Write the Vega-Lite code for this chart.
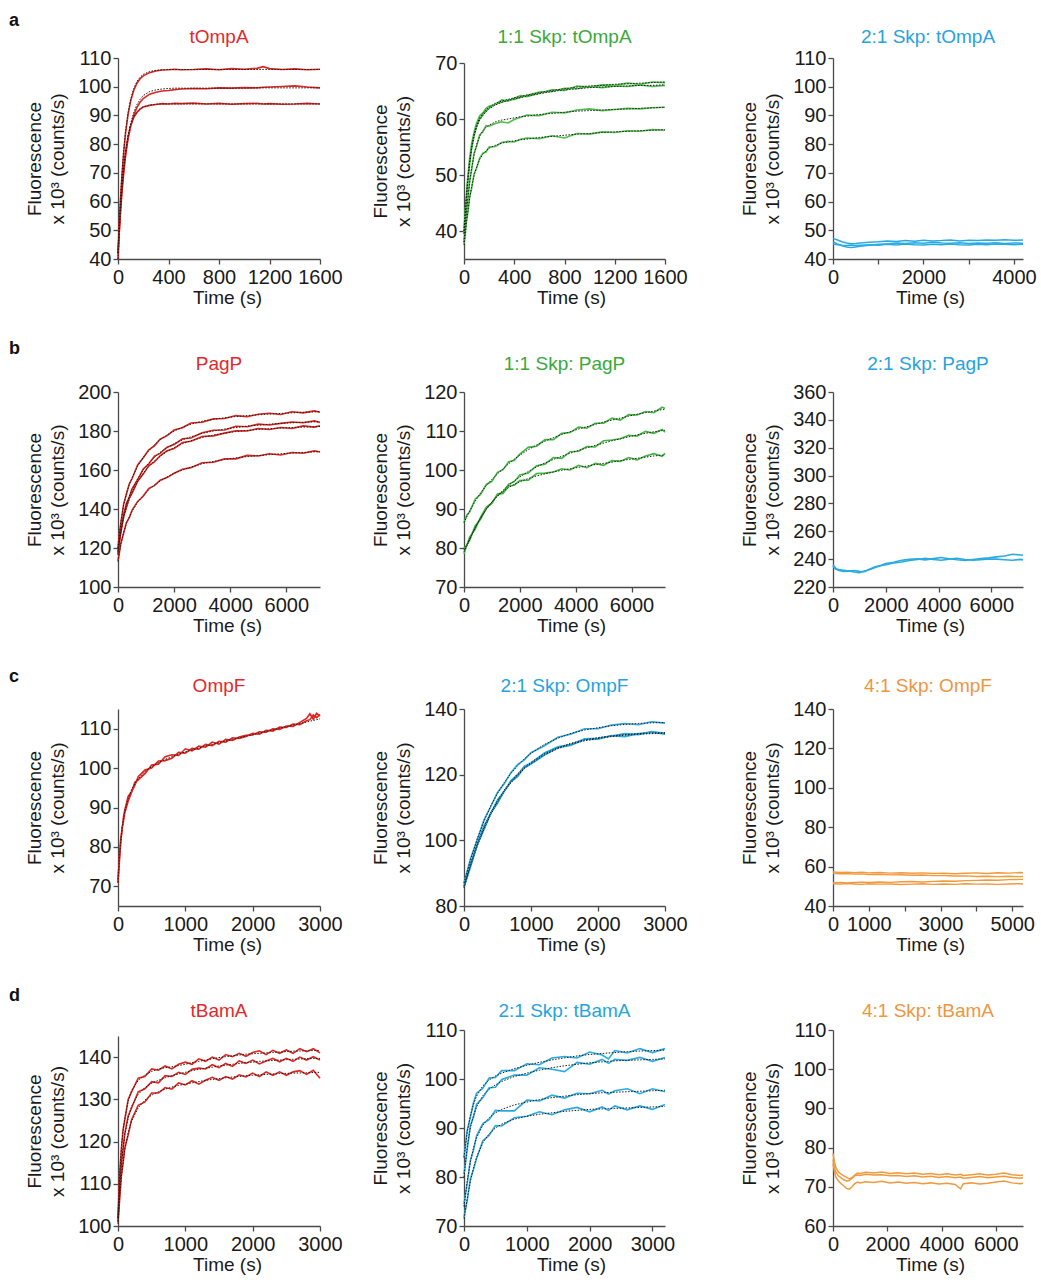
{
"$schema":"https://vega.github.io/schema/vega-lite/v6.json",
"background":"white",
"padding":{"left":9,"top":12,"right":5,"bottom":4},
"config":{
 "font":"Liberation Sans",
 "view":{"stroke":null},
 "axis":{"grid":false,"domainColor":"#4a4a4a","tickColor":"#4a4a4a","domainWidth":1.3,"tickWidth":1.3,"tickSize":5,"labelFontSize":20,"labelColor":"#1a1a1a","titleFontSize":19,"titleFontWeight":"normal","titleColor":"#1a1a1a","labelOverlap":false,"labelFlush":false,"labelFont":"Liberation Sans","titleFont":"Liberation Sans"},
 "axisX":{"labelPadding":3,"titlePadding":1},
 "axisY":{"labelPadding":2,"titlePadding":7,"minExtent":44,"maxExtent":44,"titleLineHeight":23},
 "title":{"font":"Liberation Sans","fontSize":19,"fontWeight":"normal","frame":"group","anchor":"middle","baseline":"alphabetic"}
},
"datasets":{
"a1":[
{"t":0,"d1":42,"d2":42,"d3":40,"f1":42,"f2":42,"f3":40},
{"t":10,"d1":52.0,"d2":49.6,"d3":49.4,"f1":52.6,"f2":50.2,"f3":49.8},
{"t":20,"d1":60.8,"d2":56.5,"d3":57.2,"f1":61.5,"f2":57.2,"f3":57.8},
{"t":30,"d1":68.1,"d2":62.5,"d3":63.8,"f1":68.9,"f2":63.3,"f3":64.4},
{"t":45,"d1":77.0,"d2":69.8,"d3":71.4,"f1":77.8,"f2":70.7,"f3":72.0},
{"t":60,"d1":83.9,"d2":75.8,"d3":77.2,"f1":84.5,"f2":76.7,"f3":77.7},
{"t":80,"d1":90.4,"d2":81.9,"d3":82.6,"f1":91.0,"f2":82.7,"f3":83.1},
{"t":100,"d1":95.0,"d2":86.2,"d3":86.3,"f1":95.6,"f2":87.1,"f3":86.7},
{"t":125,"d1":98.8,"d2":90.1,"d3":89.3,"f1":99.4,"f2":91.1,"f3":89.6},
{"t":150,"d1":101.2,"d2":92.8,"d3":91.0,"f1":101.8,"f2":93.8,"f3":91.3},
{"t":175,"d1":102.8,"d2":94.6,"d3":92.2,"f1":103.3,"f2":95.6,"f3":92.4},
{"t":200,"d1":103.8,"d2":95.9,"d3":92.9,"f1":104.3,"f2":96.9,"f3":93.0},
{"t":250,"d1":104.9,"d2":97.4,"d3":93.5,"f1":105.3,"f2":98.3,"f3":93.6},
{"t":300,"d1":105.5,"d2":98.1,"d3":93.8,"f1":105.7,"f2":98.9,"f3":93.9},
{"t":350,"d1":105.8,"d2":98.5,"d3":94.1,"f1":105.9,"f2":99.2,"f3":94.0},
{"t":400,"d1":105.9,"d2":98.7,"d3":94.0,"f1":106.0,"f2":99.4,"f3":94.0},
{"t":450,"d1":106.1,"d2":99.0,"d3":94.2,"f1":106.0,"f2":99.5,"f3":94.0},
{"t":500,"d1":105.9,"d2":99.2,"d3":94.1,"f1":106.0,"f2":99.5,"f3":94.0},
{"t":600,"d1":106.0,"d2":99.4,"d3":94.3,"f1":106.0,"f2":99.5,"f3":94.0},
{"t":700,"d1":106.2,"d2":99.3,"d3":94.0,"f1":106.0,"f2":99.5,"f3":94.0},
{"t":800,"d1":105.9,"d2":99.6,"d3":94.2,"f1":106.0,"f2":99.5,"f3":94.0},
{"t":900,"d1":106.3,"d2":99.5,"d3":93.9,"f1":106.0,"f2":99.5,"f3":94.0},
{"t":1000,"d1":106.1,"d2":99.7,"d3":94.1,"f1":106.0,"f2":99.5,"f3":94.0},
{"t":1100,"d1":106.4,"d2":99.6,"d3":94.2,"f1":106.0,"f2":99.6,"f3":94.0},
{"t":1150,"d1":107.0,"d2":99.8,"d3":94.0,"f1":106.0,"f2":99.6,"f3":94.0},
{"t":1200,"d1":106.3,"d2":99.9,"d3":94.1,"f1":106.0,"f2":99.6,"f3":94.0},
{"t":1300,"d1":106.0,"d2":100.1,"d3":93.9,"f1":106.0,"f2":99.6,"f3":94.0},
{"t":1400,"d1":106.2,"d2":100.3,"d3":94.0,"f1":106.0,"f2":99.6,"f3":94.0},
{"t":1500,"d1":105.9,"d2":99.9,"d3":94.2,"f1":106.0,"f2":99.6,"f3":94.0},
{"t":1600,"d1":106.1,"d2":99.6,"d3":94.0,"f1":106.0,"f2":99.6,"f3":94.0}
],
"a2":[
{"t":0,"d1":40.5,"d2":39.5,"d3":38.3,"d4":37.8,"f1":40,"f2":39.5,"f3":38,"f4":37.5},
{"t":10,"d1":43.0,"d2":43.2,"d3":40.5,"d4":39.3,"f1":43.5,"f2":43.0,"f3":40.8,"f4":39.6},
{"t":20,"d1":46.8,"d2":46.0,"d3":43.8,"d4":41.9,"f1":46.5,"f2":46.0,"f3":43.4,"f4":41.6},
{"t":30,"d1":49.6,"d2":48.8,"d3":45.4,"d4":43.1,"f1":49.2,"f2":48.8,"f3":45.7,"f4":43.4},
{"t":45,"d1":53.0,"d2":52.0,"d3":49.0,"d4":46.1,"f1":52.5,"f2":52.1,"f3":48.7,"f4":45.8},
{"t":60,"d1":55.5,"d2":54.6,"d3":50.8,"d4":47.5,"f1":55.0,"f2":54.6,"f3":51.1,"f4":47.8},
{"t":80,"d1":57.6,"d2":57.0,"d3":53.9,"d4":50.2,"f1":57.3,"f2":56.9,"f3":53.6,"f4":49.9},
{"t":100,"d1":59.3,"d2":58.7,"d3":55.1,"d4":51.2,"f1":58.9,"f2":58.5,"f3":55.4,"f4":51.4},
{"t":125,"d1":60.6,"d2":60.0,"d3":57.2,"d4":53.0,"f1":60.2,"f2":59.8,"f3":56.9,"f4":52.8},
{"t":150,"d1":61.1,"d2":60.8,"d3":57.7,"d4":53.9,"f1":61.0,"f2":60.6,"f3":57.9,"f4":53.7},
{"t":175,"d1":61.9,"d2":61.4,"d3":58.8,"d4":54.1,"f1":61.6,"f2":61.3,"f3":58.5,"f4":54.3},
{"t":200,"d1":62.3,"d2":62.0,"d3":58.7,"d4":55.0,"f1":62.1,"f2":61.8,"f3":58.9,"f4":54.8},
{"t":250,"d1":62.6,"d2":62.7,"d3":59.2,"d4":55.1,"f1":62.8,"f2":62.5,"f3":59.5,"f4":55.3},
{"t":300,"d1":63.4,"d2":63.0,"d3":59.5,"d4":55.8,"f1":63.2,"f2":63.0,"f3":59.8,"f4":55.7},
{"t":350,"d1":63.2,"d2":63.4,"d3":59.3,"d4":56.0,"f1":63.5,"f2":63.3,"f3":60.0,"f4":55.9},
{"t":400,"d1":63.7,"d2":63.5,"d3":59.9,"d4":55.9,"f1":63.8,"f2":63.6,"f3":60.2,"f4":56.1},
{"t":450,"d1":64.2,"d2":63.9,"d3":60.3,"d4":56.4,"f1":64.0,"f2":63.8,"f3":60.4,"f4":56.3},
{"t":500,"d1":64.0,"d2":64.2,"d3":60.7,"d4":56.6,"f1":64.3,"f2":64.1,"f3":60.5,"f4":56.4},
{"t":600,"d1":64.6,"d2":64.8,"d3":60.6,"d4":56.5,"f1":64.7,"f2":64.5,"f3":60.8,"f4":56.7},
{"t":700,"d1":65.2,"d2":64.9,"d3":61.2,"d4":57.0,"f1":65.1,"f2":64.9,"f3":61.0,"f4":56.9},
{"t":800,"d1":65.1,"d2":65.5,"d3":61.1,"d4":56.6,"f1":65.4,"f2":65.2,"f3":61.2,"f4":57.1},
{"t":900,"d1":65.9,"d2":65.4,"d3":61.6,"d4":57.4,"f1":65.7,"f2":65.4,"f3":61.4,"f4":57.3},
{"t":1000,"d1":65.7,"d2":65.8,"d3":61.8,"d4":57.3,"f1":65.9,"f2":65.6,"f3":61.5,"f4":57.4},
{"t":1100,"d1":66.1,"d2":65.6,"d3":61.5,"d4":57.7,"f1":66.0,"f2":65.7,"f3":61.6,"f4":57.6},
{"t":1200,"d1":66.0,"d2":65.9,"d3":61.7,"d4":57.6,"f1":66.2,"f2":65.8,"f3":61.7,"f4":57.7},
{"t":1300,"d1":66.4,"d2":65.8,"d3":61.9,"d4":57.9,"f1":66.3,"f2":65.9,"f3":61.8,"f4":57.8},
{"t":1400,"d1":66.2,"d2":66.1,"d3":61.8,"d4":57.8,"f1":66.4,"f2":66.0,"f3":61.9,"f4":57.9},
{"t":1500,"d1":66.6,"d2":65.8,"d3":62.0,"d4":58.1,"f1":66.5,"f2":66.0,"f3":62.0,"f4":58.0},
{"t":1600,"d1":66.5,"d2":66.0,"d3":62.1,"d4":58.0,"f1":66.6,"f2":66.1,"f3":62.1,"f4":58.1}
],
"a3":[
{"t":0,"s1":47.2,"s2":46.0,"s3":45.2},{"t":100,"s1":46.6,"s2":45.2,"s3":45.0},{"t":200,"s1":46.0,"s2":44.6,"s3":44.8},{"t":300,"s1":45.6,"s2":44.2,"s3":44.7},{"t":400,"s1":45.3,"s2":44.0,"s3":44.9},{"t":500,"s1":45.4,"s2":44.2,"s3":44.7},{"t":600,"s1":45.6,"s2":44.4,"s3":44.8},{"t":800,"s1":45.8,"s2":44.8,"s3":45.0},{"t":1000,"s1":46.0,"s2":45.1,"s3":44.8},{"t":1200,"s1":46.3,"s2":45.3,"s3":45.1},{"t":1400,"s1":46.1,"s2":45.6,"s3":44.9},{"t":1600,"s1":46.4,"s2":45.4,"s3":45.2},{"t":1800,"s1":46.2,"s2":45.7,"s3":45.0},{"t":2000,"s1":46.5,"s2":45.5,"s3":44.9},{"t":2200,"s1":46.3,"s2":45.8,"s3":45.1},{"t":2400,"s1":46.4,"s2":45.6,"s3":45.0},{"t":2600,"s1":46.6,"s2":45.5,"s3":45.2},{"t":2800,"s1":46.3,"s2":45.7,"s3":45.0},{"t":3000,"s1":46.5,"s2":45.4,"s3":44.9},{"t":3200,"s1":46.4,"s2":45.6,"s3":45.1},{"t":3400,"s1":46.6,"s2":45.5,"s3":45.0},{"t":3600,"s1":46.5,"s2":45.7,"s3":45.2},{"t":3800,"s1":46.7,"s2":45.4,"s3":45.1},{"t":4000,"s1":46.5,"s2":45.6,"s3":45.0},{"t":4200,"s1":46.6,"s2":45.5,"s3":45.1}
],
"b1":[
{"t":0,"d1":120,"d2":118.3,"d3":116.4,"d4":113.6,"f1":120,"f2":118,"f3":117,"f4":113},
{"t":50,"d1":127.4,"d2":123.5,"d3":123.3,"d4":117.5,"f1":127,"f2":124,"f3":123,"f4":118},
{"t":100,"d1":132.7,"d2":129.6,"d3":127.6,"d4":122.2,"f1":133,"f2":129,"f3":128,"f4":122},
{"t":200,"d1":142.5,"d2":136.8,"d3":136.0,"d4":127.6,"f1":142,"f2":137,"f3":135.5,"f4":128},
{"t":300,"d1":147.6,"d2":142.9,"d3":140.7,"d4":133.0,"f1":148,"f2":142.5,"f3":141,"f4":132.5},
{"t":400,"d1":152.8,"d2":145.9,"d3":145.6,"d4":135.4,"f1":152.5,"f2":146.5,"f3":145,"f4":136},
{"t":500,"d1":155.5,"d2":150.3,"d3":148.0,"d4":139.3,"f1":156,"f2":150,"f3":148.5,"f4":139},
{"t":700,"d1":162.6,"d2":155.1,"d3":154.2,"d4":143.9,"f1":162,"f2":155.5,"f3":154,"f4":143.5},
{"t":900,"d1":166.3,"d2":160.5,"d3":157.9,"d4":146.5,"f1":166.5,"f2":160,"f3":158.3,"f4":147},
{"t":1100,"d1":170.4,"d2":163.2,"d3":162.3,"d4":150.6,"f1":170,"f2":163.5,"f3":161.8,"f4":150},
{"t":1300,"d1":172.4,"d2":167.1,"d3":164.1,"d4":152.0,"f1":173,"f2":166.5,"f3":164.7,"f4":152.3},
{"t":1500,"d1":175.8,"d2":168.5,"d3":167.3,"d4":154.8,"f1":175.5,"f2":169,"f3":167,"f4":154.3},
{"t":1750,"d1":177.6,"d2":171.7,"d3":169.9,"d4":156.1,"f1":178,"f2":171.5,"f3":169.5,"f4":156.5},
{"t":2000,"d1":180.5,"d2":173.1,"d3":171.0,"d4":158.3,"f1":180,"f2":173.5,"f3":171.5,"f4":158.3},
{"t":2300,"d1":181.7,"d2":176.0,"d3":174.1,"d4":160.4,"f1":182,"f2":175.5,"f3":173.5,"f4":160},
{"t":2600,"d1":184.1,"d2":176.4,"d3":174.7,"d4":161.2,"f1":183.5,"f2":177,"f3":175,"f4":161.5},
{"t":3000,"d1":184.5,"d2":179.1,"d3":177.2,"d4":163.7,"f1":185,"f2":178.8,"f3":176.7,"f4":163.2},
{"t":3400,"d1":186.2,"d2":180.4,"d3":177.5,"d4":164.0,"f1":186,"f2":180.0,"f3":177.9,"f4":164.4},
{"t":3800,"d1":186.4,"d2":180.5,"d3":178.9,"d4":165.7,"f1":186.8,"f2":181.0,"f3":178.9,"f4":165.4},
{"t":4200,"d1":187.9,"d2":182.4,"d3":180.1,"d4":165.7,"f1":187.4,"f2":181.8,"f3":179.7,"f4":166.2},
{"t":4600,"d1":187.3,"d2":182.2,"d3":180.0,"d4":167.5,"f1":187.9,"f2":182.5,"f3":180.3,"f4":166.9},
{"t":5000,"d1":188.6,"d2":183.5,"d3":181.3,"d4":167.2,"f1":188.3,"f2":183.0,"f3":180.8,"f4":167.4},
{"t":5400,"d1":189.1,"d2":183.1,"d3":180.8,"d4":168.3,"f1":188.7,"f2":183.5,"f3":181.2,"f4":167.9},
{"t":5800,"d1":188.5,"d2":183.9,"d3":181.8,"d4":167.7,"f1":189.0,"f2":183.9,"f3":181.5,"f4":168.3},
{"t":6200,"d1":189.9,"d2":184.6,"d3":181.3,"d4":169.0,"f1":189.3,"f2":184.2,"f3":181.8,"f4":168.7},
{"t":6600,"d1":189.3,"d2":184.2,"d3":182.6,"d4":168.6,"f1":189.6,"f2":184.5,"f3":182.0,"f4":169.0},
{"t":7000,"d1":190.3,"d2":185.2,"d3":182.0,"d4":169.8,"f1":189.8,"f2":184.7,"f3":182.2,"f4":169.3},
{"t":7200,"d1":189.6,"d2":184.4,"d3":182.7,"d4":169.2,"f1":190,"f2":184.8,"f3":182.3,"f4":169.5}
],
"b2":[
{"t":0,"d1":86.5,"d2":79.9,"d3":78.5,"f1":86.5,"f2":79.5,"f3":79},
{"t":100,"d1":88.4,"d2":80.6,"d3":80.8,"f1":88,"f2":80.8,"f3":80.5},
{"t":200,"d1":89.2,"d2":82.8,"d3":81.9,"f1":89.5,"f2":82.3,"f3":82.1},
{"t":400,"d1":92.5,"d2":84.8,"d3":85.7,"f1":92,"f2":85.2,"f3":85.2},
{"t":600,"d1":93.8,"d2":88.0,"d3":87.4,"f1":94.2,"f2":87.7,"f3":87.8},
{"t":800,"d1":96.3,"d2":90.5,"d3":90.3,"f1":96,"f2":89.9,"f3":90.0},
{"t":1000,"d1":97.1,"d2":91.5,"d3":91.5,"f1":97.6,"f2":91.8,"f3":91.8},
{"t":1200,"d1":99.4,"d2":93.8,"d3":93.8,"f1":99,"f2":93.4,"f3":93.3},
{"t":1400,"d1":100.1,"d2":94.3,"d3":94.0,"f1":100.3,"f2":94.8,"f3":94.5},
{"t":1600,"d1":102.1,"d2":96.4,"d3":95.9,"f1":101.6,"f2":96.1,"f3":95.5},
{"t":1800,"d1":102.4,"d2":97.0,"d3":96.1,"f1":102.8,"f2":97.2,"f3":96.3},
{"t":2000,"d1":104.1,"d2":98.7,"d3":97.3,"f1":103.8,"f2":98.2,"f3":97.0},
{"t":2300,"d1":105.8,"d2":99.2,"d3":97.4,"f1":105.2,"f2":99.6,"f3":97.8},
{"t":2600,"d1":106.1,"d2":101.1,"d3":99.1,"f1":106.4,"f2":100.8,"f3":98.5},
{"t":2900,"d1":107.8,"d2":101.5,"d3":99.2,"f1":107.4,"f2":101.8,"f3":99.0},
{"t":3200,"d1":107.8,"d2":103.2,"d3":99.5,"f1":108.3,"f2":102.7,"f3":99.5},
{"t":3500,"d1":109.4,"d2":103.0,"d3":100.3,"f1":109.1,"f2":103.5,"f3":99.9},
{"t":3800,"d1":109.6,"d2":104.7,"d3":100.0,"f1":109.8,"f2":104.3,"f3":100.3},
{"t":4100,"d1":111.0,"d2":104.8,"d3":101.2,"f1":110.5,"f2":105.0,"f3":100.7},
{"t":4400,"d1":110.7,"d2":106.0,"d3":100.6,"f1":111.1,"f2":105.7,"f3":101.0},
{"t":4700,"d1":112.0,"d2":105.9,"d3":101.7,"f1":111.7,"f2":106.3,"f3":101.4},
{"t":5000,"d1":112.0,"d2":107.5,"d3":101.2,"f1":112.3,"f2":106.9,"f3":101.7},
{"t":5300,"d1":113.3,"d2":107.7,"d3":102.4,"f1":112.8,"f2":107.5,"f3":102.0},
{"t":5600,"d1":112.8,"d2":108.0,"d3":102.2,"f1":113.3,"f2":108.0,"f3":102.4},
{"t":5900,"d1":114.2,"d2":108.9,"d3":103.2,"f1":113.8,"f2":108.5,"f3":102.7},
{"t":6200,"d1":114.1,"d2":108.7,"d3":102.6,"f1":114.3,"f2":109.0,"f3":103.0},
{"t":6500,"d1":115.0,"d2":109.9,"d3":103.6,"f1":114.7,"f2":109.4,"f3":103.3},
{"t":6800,"d1":114.7,"d2":109.4,"d3":104.2,"f1":115.1,"f2":109.8,"f3":103.6},
{"t":7100,"d1":116.1,"d2":110.4,"d3":103.5,"f1":115.5,"f2":110.1,"f3":103.8},
{"t":7200,"d1":115.8,"d2":109.7,"d3":104.3,"f1":115.6,"f2":110.2,"f3":103.9}
],
"b3":[
{"t":0,"s1":236,"s2":235},{"t":100,"s1":233.5,"s2":232.8},{"t":200,"s1":232.5,"s2":232.0},{"t":400,"s1":232,"s2":231.2},{"t":600,"s1":231.5,"s2":231.6},{"t":800,"s1":231.8,"s2":230.8},{"t":1000,"s1":231.2,"s2":230.2},{"t":1200,"s1":231.0,"s2":231.5},{"t":1400,"s1":233,"s2":232.6},{"t":1600,"s1":234.5,"s2":234.0},{"t":1800,"s1":235.5,"s2":235.2},{"t":2000,"s1":236.8,"s2":236.0},{"t":2300,"s1":237.8,"s2":237.2},{"t":2600,"s1":239.2,"s2":238.0},{"t":2900,"s1":239.8,"s2":239.0},{"t":3200,"s1":240.2,"s2":239.8},{"t":3500,"s1":239.5,"s2":240.6},{"t":3800,"s1":240.4,"s2":239.7},{"t":4100,"s1":241.2,"s2":239.2},{"t":4400,"s1":240.3,"s2":240.0},{"t":4700,"s1":239.6,"s2":240.6},{"t":5000,"s1":239.1,"s2":239.8},{"t":5300,"s1":239.8,"s2":239.2},{"t":5600,"s1":240.4,"s2":239.6},{"t":5900,"s1":240.9,"s2":240.1},{"t":6200,"s1":241.6,"s2":240.0},{"t":6500,"s1":242.2,"s2":239.6},{"t":6800,"s1":243.5,"s2":239.2},{"t":7100,"s1":243.0,"s2":239.8},{"t":7200,"s1":242.8,"s2":239.5}
],
"c1":[
{"t":0,"f":71,"a":71.5,"b":70.8},{"t":20,"f":77,"a":76.2,"b":77.5},{"t":40,"f":81.5,"a":80.8,"b":81.9},{"t":60,"f":84.5,"a":84.9,"b":84.0},{"t":80,"f":87,"a":86.4,"b":87.4},{"t":100,"f":89,"a":88.6,"b":89.3},{"t":150,"f":92.2,"a":91.5,"b":92.8},{"t":200,"f":94.5,"a":93.8,"b":94.0},{"t":250,"f":96.0,"a":96.4,"b":95.6},{"t":300,"f":97.3,"a":97.0,"b":97.8},{"t":400,"f":99.1,"a":98.6,"b":99.5},{"t":500,"f":100.4,"a":100.8,"b":100.0},{"t":600,"f":101.4,"a":101.0,"b":101.8},{"t":700,"f":102.2,"a":102.9,"b":101.9},{"t":800,"f":102.9,"a":103.4,"b":102.5},{"t":900,"f":103.5,"a":103.2,"b":104.0},{"t":1000,"f":104.1,"a":104.9,"b":103.8},{"t":1100,"f":104.6,"a":104.4,"b":105.0},{"t":1200,"f":105.1,"a":105.6,"b":104.8},{"t":1300,"f":105.6,"a":105.3,"b":106.0},{"t":1400,"f":106.0,"a":106.6,"b":105.7},{"t":1500,"f":106.5,"a":106.1,"b":106.8},{"t":1600,"f":106.9,"a":107.3,"b":106.6},{"t":1700,"f":107.3,"a":107.0,"b":107.7},{"t":1800,"f":107.7,"a":107.9,"b":107.5},{"t":1900,"f":108.1,"a":108.3,"b":108.0},{"t":2000,"f":108.5,"a":108.4,"b":108.8},{"t":2100,"f":108.9,"a":109.2,"b":108.6},{"t":2200,"f":109.3,"a":109.1,"b":109.6},{"t":2300,"f":109.7,"a":110.0,"b":109.4},{"t":2400,"f":110.1,"a":109.8,"b":110.4},{"t":2500,"f":110.5,"a":110.7,"b":110.3},{"t":2600,"f":110.9,"a":110.6,"b":111.2},{"t":2700,"f":111.3,"a":111.6,"b":111.0},{"t":2800,"f":111.7,"a":112.6,"b":112.0},{"t":2850,"f":111.9,"a":113.8,"b":112.3},{"t":2900,"f":112.1,"a":112.4,"b":113.5},{"t":2950,"f":112.3,"a":113.9,"b":112.8},{"t":3000,"f":112.5,"a":113.2,"b":113.6}
],
"c2":[
{"t":0,"d1":87,"d2":86.3,"d3":85.7,"f1":87,"f2":86,"f3":85.5},
{"t":100,"d1":94.6,"d2":92.6,"d3":92.0,"f1":94.3,"f2":93.0,"f3":92.4},
{"t":200,"d1":100.3,"d2":99.2,"d3":98.7,"f1":100.6,"f2":99.0,"f3":98.4},
{"t":300,"d1":106.3,"d2":104.5,"d3":103.3,"f1":105.9,"f2":104.1,"f3":103.5},
{"t":400,"d1":110.3,"d2":108.2,"d3":108.3,"f1":110.5,"f2":108.5,"f3":107.9},
{"t":500,"d1":114.6,"d2":112.3,"d3":111.3,"f1":114.3,"f2":112.1,"f3":111.6},
{"t":600,"d1":117.2,"d2":114.9,"d3":115.0,"f1":117.6,"f2":115.3,"f3":114.8},
{"t":700,"d1":120.6,"d2":118.2,"d3":117.8,"f1":120.4,"f2":117.9,"f3":117.5},
{"t":800,"d1":123.1,"d2":120.0,"d3":119.4,"f1":122.7,"f2":120.2,"f3":119.8},
{"t":900,"d1":124.5,"d2":122.6,"d3":122.1,"f1":124.8,"f2":122.2,"f3":121.8},
{"t":1000,"d1":126.7,"d2":123.5,"d3":123.2,"f1":126.5,"f2":123.8,"f3":123.4},
{"t":1200,"d1":128.8,"d2":126.6,"d3":126.0,"f1":129.2,"f2":126.4,"f3":126.0},
{"t":1400,"d1":131.4,"d2":128.5,"d3":128.2,"f1":131.1,"f2":128.2,"f3":127.9},
{"t":1600,"d1":132.4,"d2":129.2,"d3":129.0,"f1":132.6,"f2":129.6,"f3":129.3},
{"t":1800,"d1":134.0,"d2":130.9,"d3":130.7,"f1":133.6,"f2":130.6,"f3":130.3},
{"t":2000,"d1":134.0,"d2":131.1,"d3":130.8,"f1":134.3,"f2":131.3,"f3":131.0},
{"t":2200,"d1":135.1,"d2":131.8,"d3":131.9,"f1":134.9,"f2":131.8,"f3":131.6},
{"t":2400,"d1":135.6,"d2":132.5,"d3":131.6,"f1":135.3,"f2":132.2,"f3":132.0},
{"t":2600,"d1":135.2,"d2":132.2,"d3":132.5,"f1":135.6,"f2":132.5,"f3":132.3},
{"t":2800,"d1":136.1,"d2":133.1,"d3":132.9,"f1":135.8,"f2":132.7,"f3":132.5},
{"t":3000,"d1":135.7,"d2":132.6,"d3":132.3,"f1":135.9,"f2":132.8,"f3":132.6}
],
"c3":[
{"t":0,"l1":57.3,"l2":56.6,"l3":51.8,"l4":51.3},{"t":200,"l1":57.0,"l2":56.4,"l3":51.9,"l4":51.1},{"t":400,"l1":57.2,"l2":56.5,"l3":51.7,"l4":51.4},{"t":600,"l1":56.9,"l2":56.2,"l3":51.9,"l4":51.2},{"t":800,"l1":57.1,"l2":56.3,"l3":52.1,"l4":51.0},{"t":1000,"l1":56.8,"l2":56.0,"l3":51.9,"l4":51.3},{"t":1300,"l1":57.0,"l2":56.1,"l3":52.2,"l4":51.1},{"t":1600,"l1":56.7,"l2":55.8,"l3":52.0,"l4":51.2},{"t":1900,"l1":56.9,"l2":55.9,"l3":52.3,"l4":50.9},{"t":2200,"l1":56.6,"l2":55.6,"l3":52.4,"l4":51.1},{"t":2500,"l1":56.8,"l2":55.7,"l3":52.2,"l4":51.3},{"t":2800,"l1":56.5,"l2":55.4,"l3":52.5,"l4":51.0},{"t":3100,"l1":56.7,"l2":55.5,"l3":52.7,"l4":51.2},{"t":3400,"l1":56.4,"l2":55.2,"l3":52.6,"l4":51.0},{"t":3700,"l1":56.6,"l2":55.3,"l3":52.9,"l4":51.3},{"t":4000,"l1":56.8,"l2":55.0,"l3":53.0,"l4":51.1},{"t":4300,"l1":56.5,"l2":55.1,"l3":53.2,"l4":51.2},{"t":4600,"l1":56.9,"l2":54.9,"l3":53.1,"l4":51.0},{"t":4900,"l1":56.7,"l2":55.1,"l3":53.4,"l4":51.2},{"t":5200,"l1":57.0,"l2":54.9,"l3":53.5,"l4":51.3},{"t":5300,"l1":56.9,"l2":55.0,"l3":53.5,"l4":51.2}
],
"d1":[
{"t":0,"d1":102,"d2":101.6,"d3":100.9,"f1":102,"f2":101,"f3":100.5},
{"t":25,"d1":112.5,"d2":108.7,"d3":106.4,"f1":112,"f2":109,"f3":107},
{"t":50,"d1":118.1,"d2":114.9,"d3":112.0,"f1":118.5,"f2":114.5,"f3":111.5},
{"t":75,"d1":122.8,"d2":118.0,"d3":114.8,"f1":122.5,"f2":118.5,"f3":115},
{"t":100,"d1":125.0,"d2":121.8,"d3":118.4,"f1":125.5,"f2":121.5,"f3":118},
{"t":150,"d1":129.9,"d2":126.0,"d3":121.5,"f1":129.5,"f2":125.5,"f3":122},
{"t":200,"d1":131.7,"d2":127.9,"d3":125.1,"f1":132,"f2":128.3,"f3":124.8},
{"t":300,"d1":135.0,"d2":131.8,"d3":128.6,"f1":134.5,"f2":131.2,"f3":128},
{"t":400,"d1":135.4,"d2":132.5,"d3":129.4,"f1":135.8,"f2":132.8,"f3":129.8},
{"t":500,"d1":137.2,"d2":134.2,"d3":131.5,"f1":136.6,"f2":133.8,"f3":131.0},
{"t":600,"d1":136.9,"d2":133.9,"d3":131.5,"f1":137.2,"f2":134.5,"f3":131.8},
{"t":700,"d1":137.9,"d2":135.6,"d3":132.8,"f1":137.5,"f2":135.1,"f3":132.4},
{"t":800,"d1":137.2,"d2":135.4,"d3":132.4,"f1":137.7,"f2":135.6,"f3":132.9},
{"t":900,"d1":138.3,"d2":136.4,"d3":133.9,"f1":138.0,"f2":136.0,"f3":133.3},
{"t":1000,"d1":138.8,"d2":135.9,"d3":133.4,"f1":138.3,"f2":136.4,"f3":133.6},
{"t":1100,"d1":138.3,"d2":137.1,"d3":134.4,"f1":138.7,"f2":136.8,"f3":133.9},
{"t":1200,"d1":139.6,"d2":137.4,"d3":133.6,"f1":139.0,"f2":137.1,"f3":134.2},
{"t":1300,"d1":139.0,"d2":137.2,"d3":134.5,"f1":139.3,"f2":137.4,"f3":134.5},
{"t":1400,"d1":140.0,"d2":138.2,"d3":135.2,"f1":139.6,"f2":137.6,"f3":134.7},
{"t":1500,"d1":139.3,"d2":137.5,"d3":134.5,"f1":139.9,"f2":137.9,"f3":134.9},
{"t":1600,"d1":140.6,"d2":138.5,"d3":135.4,"f1":140.1,"f2":138.1,"f3":135.1},
{"t":1700,"d1":140.1,"d2":137.8,"d3":134.8,"f1":140.3,"f2":138.3,"f3":135.3},
{"t":1800,"d1":140.9,"d2":139.1,"d3":135.8,"f1":140.5,"f2":138.5,"f3":135.4},
{"t":1900,"d1":140.2,"d2":138.5,"d3":135.3,"f1":140.7,"f2":138.7,"f3":135.6},
{"t":2000,"d1":141.1,"d2":139.3,"d3":136.2,"f1":140.8,"f2":138.8,"f3":135.7},
{"t":2100,"d1":141.5,"d2":138.4,"d3":135.4,"f1":140.9,"f2":139.0,"f3":135.8},
{"t":2200,"d1":140.6,"d2":139.1,"d3":136.5,"f1":141.0,"f2":139.1,"f3":135.9},
{"t":2300,"d1":141.6,"d2":139.7,"d3":135.7,"f1":141.1,"f2":139.2,"f3":136.0},
{"t":2400,"d1":140.9,"d2":138.9,"d3":136.5,"f1":141.2,"f2":139.3,"f3":136.1},
{"t":2500,"d1":141.7,"d2":139.7,"d3":135.7,"f1":141.3,"f2":139.4,"f3":136.15},
{"t":2600,"d1":140.9,"d2":139.0,"d3":136.5,"f1":141.4,"f2":139.5,"f3":136.2},
{"t":2700,"d1":142.0,"d2":140.0,"d3":136.8,"f1":141.45,"f2":139.55,"f3":136.25},
{"t":2800,"d1":141.3,"d2":139.3,"d3":135.9,"f1":141.5,"f2":139.6,"f3":136.3},
{"t":2900,"d1":142.0,"d2":140.1,"d3":136.9,"f1":141.55,"f2":139.65,"f3":136.35},
{"t":3000,"d1":141.0,"d2":139.3,"d3":135.0,"f1":141.6,"f2":139.7,"f3":136.4}
],
"d2":[
{"t":0,"d1":84,"d2":80.6,"d3":74.5,"d4":71.8,"f1":84,"f2":80,"f3":74,"f4":71.5},
{"t":50,"d1":89.5,"d2":85.5,"d3":78.6,"d4":75.1,"f1":89,"f2":86,"f3":79,"f4":75.5},
{"t":100,"d1":92.1,"d2":90.4,"d3":83.3,"d4":79.5,"f1":92.5,"f2":90,"f3":83,"f4":79},
{"t":150,"d1":95.1,"d2":92.2,"d3":85.4,"d4":81.5,"f1":94.8,"f2":92.5,"f3":85.9,"f4":81.8},
{"t":200,"d1":97.1,"d2":94.8,"d3":88.4,"d4":83.8,"f1":96.5,"f2":94.3,"f3":88,"f4":84},
{"t":300,"d1":98.1,"d2":96.2,"d3":90.9,"d4":87.4,"f1":98.6,"f2":96.6,"f3":90.6,"f4":87},
{"t":400,"d1":100.2,"d2":98.2,"d3":91.7,"d4":88.5,"f1":99.8,"f2":97.9,"f3":92.1,"f4":88.8},
{"t":500,"d1":100.3,"d2":98.3,"d3":93.6,"d4":90.5,"f1":100.6,"f2":98.8,"f3":93.1,"f4":90.0},
{"t":600,"d1":101.7,"d2":99.9,"d3":93.5,"d4":90.4,"f1":101.2,"f2":99.5,"f3":93.8,"f4":90.8},
{"t":800,"d1":101.7,"d2":100.8,"d3":93.5,"d4":92.1,"f1":102.1,"f2":100.5,"f3":94.7,"f4":91.8},
{"t":1000,"d1":103.1,"d2":100.8,"d3":95.7,"d4":92.4,"f1":102.8,"f2":101.2,"f3":95.3,"f4":92.4},
{"t":1200,"d1":102.9,"d2":102.3,"d3":95.5,"d4":93.3,"f1":103.4,"f2":101.8,"f3":95.8,"f4":92.8},
{"t":1400,"d1":104.3,"d2":102.0,"d3":96.7,"d4":92.7,"f1":103.9,"f2":102.3,"f3":96.2,"f4":93.1},
{"t":1600,"d1":104.6,"d2":101.5,"d3":96.1,"d4":93.7,"f1":104.3,"f2":102.7,"f3":96.5,"f4":93.4},
{"t":1800,"d1":104.3,"d2":103.4,"d3":97.1,"d4":94.2,"f1":104.7,"f2":103.0,"f3":96.8,"f4":93.6},
{"t":2000,"d1":105.5,"d2":103.0,"d3":97.0,"d4":93.3,"f1":105.0,"f2":103.3,"f3":97.0,"f4":93.8},
{"t":2200,"d1":104.9,"d2":104.0,"d3":97.7,"d4":94.3,"f1":105.2,"f2":103.5,"f3":97.2,"f4":93.9},
{"t":2300,"d1":104.1,"d2":103.2,"d3":96.9,"d4":93.6,"f1":105.3,"f2":103.6,"f3":97.25,"f4":93.95},
{"t":2400,"d1":105.8,"d2":104.0,"d3":97.6,"d4":94.5,"f1":105.4,"f2":103.7,"f3":97.3,"f4":94.0},
{"t":2600,"d1":105.3,"d2":103.8,"d3":98.0,"d4":93.7,"f1":105.6,"f2":103.8,"f3":97.4,"f4":94.1},
{"t":2800,"d1":106.2,"d2":104.4,"d3":97.0,"d4":94.5,"f1":105.7,"f2":103.9,"f3":97.5,"f4":94.2},
{"t":3000,"d1":105.4,"d2":103.6,"d3":98.0,"d4":93.8,"f1":105.8,"f2":104.0,"f3":97.6,"f4":94.3},
{"t":3200,"d1":106.2,"d2":104.4,"d3":97.4,"d4":94.8,"f1":105.9,"f2":104.1,"f3":97.7,"f4":94.4}
],
"d3":[
{"t":0,"l1":78.5,"l2":77.0,"l3":76.0},{"t":50,"l1":76.5,"l2":75.0,"l3":74.0},{"t":100,"l1":75.0,"l2":73.8,"l3":72.5},{"t":200,"l1":73.8,"l2":72.8,"l3":71.5},{"t":300,"l1":73.2,"l2":72.3,"l3":70.8},{"t":400,"l1":72.8,"l2":71.8,"l3":70.2},{"t":500,"l1":72.4,"l2":71.5,"l3":69.6},{"t":600,"l1":72.0,"l2":71.6,"l3":69.4},{"t":700,"l1":72.3,"l2":72.2,"l3":70.0},{"t":800,"l1":73.0,"l2":72.8,"l3":70.8},{"t":900,"l1":73.5,"l2":73.0,"l3":71.2},{"t":1000,"l1":73.4,"l2":72.9,"l3":71.0},{"t":1200,"l1":73.7,"l2":73.2,"l3":71.3},{"t":1500,"l1":73.5,"l2":73.0,"l3":71.1},{"t":1800,"l1":73.8,"l2":73.1,"l3":71.4},{"t":2100,"l1":73.4,"l2":72.8,"l3":71.0},{"t":2400,"l1":73.6,"l2":72.9,"l3":71.2},{"t":2700,"l1":73.3,"l2":72.6,"l3":70.9},{"t":3000,"l1":73.5,"l2":72.8,"l3":71.1},{"t":3300,"l1":73.2,"l2":72.5,"l3":70.8},{"t":3600,"l1":73.4,"l2":72.7,"l3":71.0},{"t":3900,"l1":73.1,"l2":72.4,"l3":70.7},{"t":4200,"l1":73.3,"l2":72.6,"l3":70.9},{"t":4500,"l1":73.0,"l2":72.3,"l3":70.6},{"t":4700,"l1":73.2,"l2":72.5,"l3":69.5},{"t":4800,"l1":72.9,"l2":72.2,"l3":70.8},{"t":5100,"l1":73.1,"l2":72.4,"l3":71.0},{"t":5400,"l1":73.3,"l2":72.6,"l3":70.7},{"t":5700,"l1":73.0,"l2":72.3,"l3":70.9},{"t":6000,"l1":73.2,"l2":72.5,"l3":71.2},{"t":6300,"l1":73.5,"l2":72.7,"l3":71.5},{"t":6600,"l1":73.1,"l2":72.4,"l3":71.0},{"t":6900,"l1":72.9,"l2":72.2,"l3":70.8},{"t":7000,"l1":73.0,"l2":72.3,"l3":70.9}
]
},
"spacing":33,
"vconcat":[
{"title":{"text":"a","anchor":"start","frame":"bounds","fontWeight":"bold","fontSize":18,"color":"#111111","dx":-16,"offset":-16,"baseline":"alphabetic"},
 "bounds":"flush","spacing":144,
 "hconcat":[
  {"width":202,"height":201,"title":{"text":"tOmpA","color":"#e2292d","offset":1},
   "encoding":{"x":{"field":"t","type":"quantitative","scale":{"domain":[0,1600],"nice":false},"axis":{"title":"Time (s)","values":[0,400,800,1200,1600],"format":"d","titleX":109}},
               "y":{"field":"v","type":"quantitative","scale":{"domain":[40,110],"nice":false,"zero":false},"axis":{"title":["Fluorescence","x 10³ (counts/s)"],"values":[40,50,60,70,80,90,100,110],"format":"d"}}},
   "layer":[
    {"data":{"name":"a1"},"transform":[{"fold":["d1","d2","d3"],"as":["k","v"]}],"mark":{"type":"line","color":"#e0241f","strokeWidth":1.6},"encoding":{"detail":{"field":"k","type":"nominal"}}},
    {"data":{"name":"a1"},"transform":[{"fold":["f1","f2","f3"],"as":["k","v"]}],"mark":{"type":"line","color":"#1a1a1a","strokeWidth":1,"strokeDash":[1.5,1.5]},"encoding":{"detail":{"field":"k","type":"nominal"}}}
   ]},
  {"width":225,"height":201,"title":{"text":"1:1 Skp: tOmpA","color":"#3aa93a","offset":6,"dx":-12},
   "encoding":{"x":{"field":"t","type":"quantitative","scale":{"domain":[0,1600],"nice":false,"range":[0,201]},"axis":{"title":"Time (s)","values":[0,400,800,1200,1600],"format":"d","titleX":107}},
               "y":{"field":"v","type":"quantitative","scale":{"domain":[35,70],"nice":false,"zero":false,"range":[201,5]},"axis":{"title":["Fluorescence","x 10³ (counts/s)"],"values":[40,50,60,70],"format":"d"}}},
   "layer":[
    {"data":{"name":"a2"},"transform":[{"fold":["d1","d2","d3","d4"],"as":["k","v"]}],"mark":{"type":"line","color":"#4cbf4a","strokeWidth":1.6},"encoding":{"detail":{"field":"k","type":"nominal"}}},
    {"data":{"name":"a2"},"transform":[{"fold":["f1","f2","f3","f4"],"as":["k","v"]}],"mark":{"type":"line","color":"#1a1a1a","strokeWidth":1,"strokeDash":[1.5,1.5]},"encoding":{"detail":{"field":"k","type":"nominal"}}}
   ]},
  {"width":190,"height":201,"title":{"text":"2:1 Skp: tOmpA","color":"#27a3dd","offset":1},
   "encoding":{"x":{"field":"t","type":"quantitative","scale":{"domain":[0,4200],"nice":false},"axis":{"title":"Time (s)","values":[0,1000,2000,3000,4000],"format":"d","labelExpr":"datum.value % 2000 == 0 ? datum.label : ''","titleX":97}},
               "y":{"field":"v","type":"quantitative","scale":{"domain":[40,110],"nice":false,"zero":false},"axis":{"title":["Fluorescence","x 10³ (counts/s)"],"values":[40,50,60,70,80,90,100,110],"format":"d"}}},
   "layer":[
    {"data":{"name":"a3"},"transform":[{"fold":["s1","s2","s3"],"as":["k","v"]}],"mark":{"type":"line","color":"#29abe2","strokeWidth":1.5},"encoding":{"detail":{"field":"k","type":"nominal"}}}
   ]}
 ]},
{"title":{"text":"b","anchor":"start","frame":"bounds","fontWeight":"bold","fontSize":18,"color":"#111111","dx":-16,"offset":-17,"baseline":"alphabetic"},
 "bounds":"flush","spacing":144,
 "hconcat":[
  {"width":202,"height":195,"title":{"text":"PagP","color":"#e2292d","offset":8},
   "encoding":{"x":{"field":"t","type":"quantitative","scale":{"domain":[0,7200],"nice":false},"axis":{"title":"Time (s)","values":[0,2000,4000,6000],"format":"d","titleX":109}},
               "y":{"field":"v","type":"quantitative","scale":{"domain":[100,200],"nice":false,"zero":false},"axis":{"title":["Fluorescence","x 10³ (counts/s)"],"values":[100,120,140,160,180,200],"format":"d"}}},
   "layer":[
    {"data":{"name":"b1"},"transform":[{"fold":["d1","d2","d3","d4"],"as":["k","v"]}],"mark":{"type":"line","color":"#e0241f","strokeWidth":1.6},"encoding":{"detail":{"field":"k","type":"nominal"}}},
    {"data":{"name":"b1"},"transform":[{"fold":["f1","f2","f3","f4"],"as":["k","v"]}],"mark":{"type":"line","color":"#1a1a1a","strokeWidth":1,"strokeDash":[1.5,1.5]},"encoding":{"detail":{"field":"k","type":"nominal"}}}
   ]},
  {"width":225,"height":195,"title":{"text":"1:1 Skp: PagP","color":"#3aa93a","offset":8,"dx":-12},
   "encoding":{"x":{"field":"t","type":"quantitative","scale":{"domain":[0,7200],"nice":false,"range":[0,201]},"axis":{"title":"Time (s)","values":[0,2000,4000,6000],"format":"d","titleX":107}},
               "y":{"field":"v","type":"quantitative","scale":{"domain":[70,120],"nice":false,"zero":false},"axis":{"title":["Fluorescence","x 10³ (counts/s)"],"values":[70,80,90,100,110,120],"format":"d"}}},
   "layer":[
    {"data":{"name":"b2"},"transform":[{"fold":["d1","d2","d3"],"as":["k","v"]}],"mark":{"type":"line","color":"#3fb83f","strokeWidth":1.6},"encoding":{"detail":{"field":"k","type":"nominal"}}},
    {"data":{"name":"b2"},"transform":[{"fold":["f1","f2","f3"],"as":["k","v"]}],"mark":{"type":"line","color":"#1a1a1a","strokeWidth":1,"strokeDash":[1.5,1.5]},"encoding":{"detail":{"field":"k","type":"nominal"}}}
   ]},
  {"width":190,"height":195,"title":{"text":"2:1 Skp: PagP","color":"#27a3dd","offset":8},
   "encoding":{"x":{"field":"t","type":"quantitative","scale":{"domain":[0,7200],"nice":false},"axis":{"title":"Time (s)","values":[0,2000,4000,6000],"format":"d","titleX":97}},
               "y":{"field":"v","type":"quantitative","scale":{"domain":[220,360],"nice":false,"zero":false},"axis":{"title":["Fluorescence","x 10³ (counts/s)"],"values":[220,240,260,280,300,320,340,360],"format":"d"}}},
   "layer":[
    {"data":{"name":"b3"},"transform":[{"fold":["s1","s2"],"as":["k","v"]}],"mark":{"type":"line","color":"#29abe2","strokeWidth":1.6},"encoding":{"detail":{"field":"k","type":"nominal"}}}
   ]}
 ]},
{"title":{"text":"c","anchor":"start","frame":"bounds","fontWeight":"bold","fontSize":18,"color":"#111111","dx":-16,"offset":-23,"baseline":"alphabetic"},
 "bounds":"flush","spacing":144,
 "hconcat":[
  {"width":202,"height":197,"title":{"text":"OmpF","color":"#e2292d","offset":13},
   "encoding":{"x":{"field":"t","type":"quantitative","scale":{"domain":[0,3000],"nice":false},"axis":{"title":"Time (s)","values":[0,1000,2000,3000],"format":"d","titleX":109}},
               "y":{"field":"v","type":"quantitative","scale":{"domain":[65,115],"nice":false,"zero":false},"axis":{"title":["Fluorescence","x 10³ (counts/s)"],"values":[70,80,90,100,110],"format":"d"}}},
   "layer":[
    {"data":{"name":"c1"},"transform":[{"fold":["a","b"],"as":["k","v"]}],"mark":{"type":"line","color":"#e0241f","strokeWidth":1.6},"encoding":{"detail":{"field":"k","type":"nominal"}}},
    {"data":{"name":"c1"},"transform":[{"fold":["f"],"as":["k","v"]}],"mark":{"type":"line","color":"#1a1a1a","strokeWidth":1,"strokeDash":[1.5,1.5]},"encoding":{"detail":{"field":"k","type":"nominal"}}}
   ]},
  {"width":225,"height":197,"title":{"text":"2:1 Skp: OmpF","color":"#27a3dd","offset":3,"dx":-12},
   "encoding":{"x":{"field":"t","type":"quantitative","scale":{"domain":[0,3000],"nice":false,"range":[0,201]},"axis":{"title":"Time (s)","values":[0,1000,2000,3000],"format":"d","titleX":107}},
               "y":{"field":"v","type":"quantitative","scale":{"domain":[80,140],"nice":false,"zero":false},"axis":{"title":["Fluorescence","x 10³ (counts/s)"],"values":[80,100,120,140],"format":"d"}}},
   "layer":[
    {"data":{"name":"c2"},"transform":[{"fold":["d1","d2","d3"],"as":["k","v"]}],"mark":{"type":"line","color":"#29abe2","strokeWidth":1.6},"encoding":{"detail":{"field":"k","type":"nominal"}}},
    {"data":{"name":"c2"},"transform":[{"fold":["f1","f2","f3"],"as":["k","v"]}],"mark":{"type":"line","color":"#1a1a1a","strokeWidth":1,"strokeDash":[1.5,1.5]},"encoding":{"detail":{"field":"k","type":"nominal"}}}
   ]},
  {"width":190,"height":197,"title":{"text":"4:1 Skp: OmpF","color":"#ee963f","offset":3},
   "encoding":{"x":{"field":"t","type":"quantitative","scale":{"domain":[0,5300],"nice":false},"axis":{"title":"Time (s)","values":[0,1000,2000,3000,4000,5000],"format":"d","labelExpr":"(datum.value == 2000 || datum.value == 4000) ? '' : datum.label","titleX":97}},
               "y":{"field":"v","type":"quantitative","scale":{"domain":[40,140],"nice":false,"zero":false},"axis":{"title":["Fluorescence","x 10³ (counts/s)"],"values":[40,60,80,100,120,140],"format":"d"}}},
   "layer":[
    {"data":{"name":"c3"},"transform":[{"fold":["l1","l2","l3","l4"],"as":["k","v"]}],"mark":{"type":"line","color":"#f09a3e","strokeWidth":1.4},"encoding":{"detail":{"field":"k","type":"nominal"}}}
   ]}
 ]},
{"title":{"text":"d","anchor":"start","frame":"bounds","fontWeight":"bold","fontSize":18,"color":"#111111","dx":-16,"offset":-17,"baseline":"alphabetic"},
 "bounds":"flush","spacing":144,
 "hconcat":[
  {"width":202,"height":196,"title":{"text":"tBamA","color":"#e2292d","offset":9},
   "encoding":{"x":{"field":"t","type":"quantitative","scale":{"domain":[0,3000],"nice":false},"axis":{"title":"Time (s)","values":[0,1000,2000,3000],"format":"d","titleX":109}},
               "y":{"field":"v","type":"quantitative","scale":{"domain":[100,145],"nice":false,"zero":false,"range":[196,6]},"axis":{"title":["Fluorescence","x 10³ (counts/s)"],"values":[100,110,120,130,140],"format":"d"}}},
   "layer":[
    {"data":{"name":"d1"},"transform":[{"fold":["d1","d2","d3"],"as":["k","v"]}],"mark":{"type":"line","color":"#e0241f","strokeWidth":1.6},"encoding":{"detail":{"field":"k","type":"nominal"}}},
    {"data":{"name":"d1"},"transform":[{"fold":["f1","f2","f3"],"as":["k","v"]}],"mark":{"type":"line","color":"#1a1a1a","strokeWidth":1,"strokeDash":[1.5,1.5]},"encoding":{"detail":{"field":"k","type":"nominal"}}}
   ]},
  {"width":225,"height":196,"title":{"text":"2:1 Skp: tBamA","color":"#27a3dd","offset":-1,"dx":-12},
   "encoding":{"x":{"field":"t","type":"quantitative","scale":{"domain":[0,3200],"nice":false,"range":[0,201]},"axis":{"title":"Time (s)","values":[0,1000,2000,3000],"format":"d","titleX":107}},
               "y":{"field":"v","type":"quantitative","scale":{"domain":[70,110],"nice":false,"zero":false},"axis":{"title":["Fluorescence","x 10³ (counts/s)"],"values":[70,80,90,100,110],"format":"d"}}},
   "layer":[
    {"data":{"name":"d2"},"transform":[{"fold":["d1","d2","d3","d4"],"as":["k","v"]}],"mark":{"type":"line","color":"#29abe2","strokeWidth":1.6},"encoding":{"detail":{"field":"k","type":"nominal"}}},
    {"data":{"name":"d2"},"transform":[{"fold":["f1","f2","f3","f4"],"as":["k","v"]}],"mark":{"type":"line","color":"#1a1a1a","strokeWidth":1,"strokeDash":[1.5,1.5]},"encoding":{"detail":{"field":"k","type":"nominal"}}}
   ]},
  {"width":190,"height":196,"title":{"text":"4:1 Skp: tBamA","color":"#ee963f","offset":-1},
   "encoding":{"x":{"field":"t","type":"quantitative","scale":{"domain":[0,7000],"nice":false},"axis":{"title":"Time (s)","values":[0,2000,4000,6000],"format":"d","titleX":97}},
               "y":{"field":"v","type":"quantitative","scale":{"domain":[60,110],"nice":false,"zero":false},"axis":{"title":["Fluorescence","x 10³ (counts/s)"],"values":[60,70,80,90,100,110],"format":"d"}}},
   "layer":[
    {"data":{"name":"d3"},"transform":[{"fold":["l1","l2","l3"],"as":["k","v"]}],"mark":{"type":"line","color":"#f09a3e","strokeWidth":1.5},"encoding":{"detail":{"field":"k","type":"nominal"}}}
   ]}
 ]}
]
}
